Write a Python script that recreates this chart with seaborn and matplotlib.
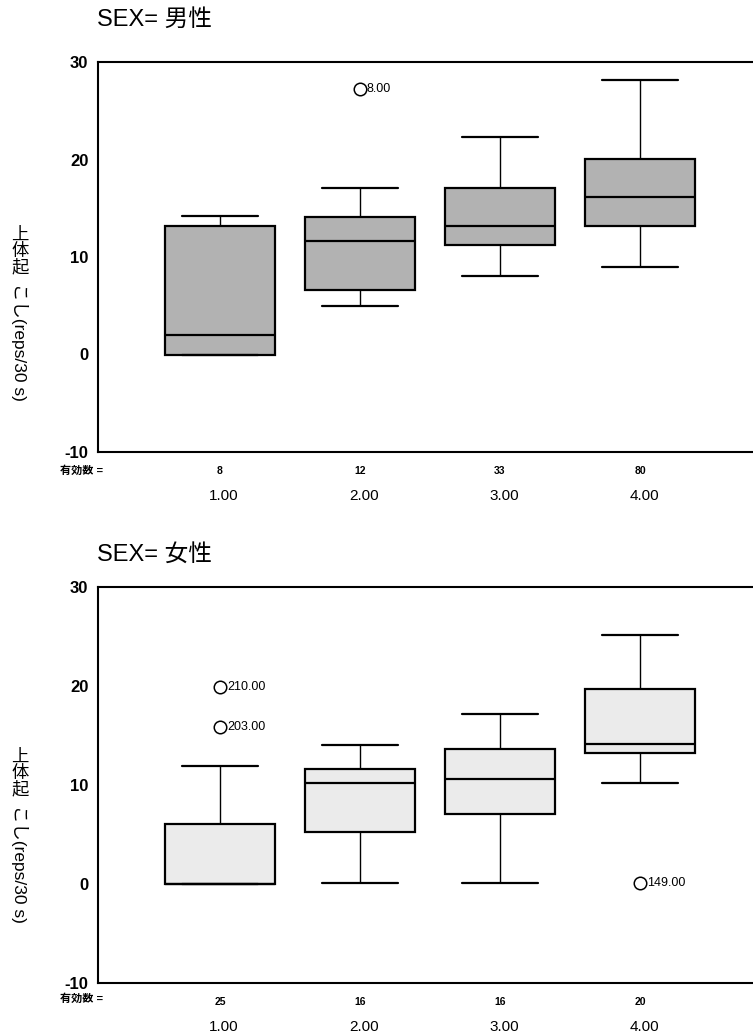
"""SPSS style boxplots of sit-ups (上体起こし) by group, split by SEX."""

import matplotlib
matplotlib.use("Agg")
import matplotlib.pyplot as plt
import pandas as pd
import seaborn as sns

# ---------------------------------------------------------------------------
# Data (five-number summaries per group)
# ---------------------------------------------------------------------------
groups = ["1.00", "2.00", "3.00", "4.00"]

male_lo = [0.0, 5.0, 8.1, 9.0]
male_q1 = [0.0, 6.6, 11.2, 13.2]
male_med = [2.0, 11.6, 13.2, 16.2]
male_q3 = [13.2, 14.1, 17.1, 20.1]
male_hi = [14.2, 17.1, 22.3, 28.2]
male_n = [8, 12, 33, 80]
male_out_group = ["2.00"]
male_out_val = [27.2]
male_out_label = ["8.00"]

female_lo = [0.0, 0.1, 0.1, 10.2]
female_q1 = [0.0, 5.3, 7.1, 13.2]
female_med = [0.0, 10.2, 10.6, 14.1]
female_q3 = [6.1, 11.6, 13.6, 19.7]
female_hi = [11.9, 14.0, 17.2, 25.2]
female_n = [25, 16, 16, 20]
female_out_group = ["1.00", "1.00", "4.00"]
female_out_val = [19.9, 15.9, 0.1]
female_out_label = ["210.00", "203.00", "149.00"]

W, H = 753, 1033

sns.set_style("white")
plt.rcParams["font.family"] = ["Liberation Sans", "Noto Sans CJK JP", "DejaVu Sans"]
plt.rcParams.update({"text.color": "black", "axes.labelcolor": "black",
                     "xtick.color": "black", "ytick.color": "black",
                     "axes.unicode_minus": False})


def five_number_frame(lo, q1, med, q3, hi):
    rows = []
    for g, a, b, c, d, e in zip(groups, lo, q1, med, q3, hi):
        for v in (a, b, c, d, e):
            rows.append({"group": g, "value": v})
    return pd.DataFrame(rows)


def draw_panel(ax, df, counts, out_group, out_val, out_label, face):
    sns.boxplot(data=df, x="group", y="value", order=groups, ax=ax,
                whis=(0, 100), width=0.78, color=face, saturation=1,
                linecolor="black", fliersize=0, capwidths=0.54,
                boxprops={"linewidth": 1.6},
                whiskerprops={"linewidth": 1.0},
                capprops={"linewidth": 1.6},
                medianprops={"linewidth": 1.6, "color": "black"})

    outl = pd.DataFrame({"group": out_group, "value": out_val})
    sns.stripplot(data=outl, x="group", y="value", order=groups, ax=ax,
                  jitter=False, size=9, color="white", edgecolor="black",
                  linewidth=1.1, zorder=5)
    for g, v, lab in zip(out_group, out_val, out_label):
        ax.annotate(lab, (groups.index(g), v), xytext=(5, 0),
                    textcoords="offset points", va="center", ha="left",
                    fontsize=9)

    ax.set_xlim(-0.871, 3.807)
    ax.set_ylim(-10, 30)
    ax.set_yticks([-10, 0, 10, 20, 30])
    ax.set_xlabel("")
    ax.set_ylabel("")
    ax.set_xticks(range(len(groups)))
    ax.set_xticklabels([str(n) for n in counts], fontsize=7.5, fontweight="bold")
    ax.tick_params(axis="x", direction="in", length=3, pad=10, width=1)
    ax.tick_params(axis="y", direction="out", length=3, pad=4, width=1,
                   labelsize=12)
    for lab in ax.get_yticklabels():
        lab.set_fontweight("bold")

    for i, g in enumerate(groups):
        ax.annotate(g, xy=(i, 0), xycoords=("data", "axes fraction"),
                    xytext=(3, -32), textcoords="offset points",
                    ha="center", va="center", fontsize=11)

    ax.spines["right"].set_visible(False)
    for side in ("left", "top", "bottom"):
        ax.spines[side].set_linewidth(1.5)
        ax.spines[side].set_color("black")


fig = plt.figure(figsize=(W / 100, H / 100), dpi=100)

ax_m = fig.add_axes([98 / W, 1 - 452 / H, 1 - 98 / W, 390 / H])
ax_f = fig.add_axes([98 / W, 1 - 983 / H, 1 - 98 / W, 396 / H])

draw_panel(ax_m,
           five_number_frame(male_lo, male_q1, male_med, male_q3, male_hi),
           male_n, male_out_group, male_out_val, male_out_label, "#b2b2b2")
draw_panel(ax_f,
           five_number_frame(female_lo, female_q1, female_med, female_q3, female_hi),
           female_n, female_out_group, female_out_val, female_out_label, "#ebebeb")

# titles, "valid N" row label and the y label
for title, ty, ny, ly in [("SEX= 男性", 20, 471, 228), ("SEX= 女性", 555, 999, 750)]:
    fig.text(97 / W, 1 - ty / H, title, fontsize=17, ha="left", va="center")
    fig.text(60 / W, 1 - ny / H, "有効数 =", fontsize=8, fontweight="bold",
             ha="left", va="center")
    fig.text(20 / W, 1 - ly / H, "上\n体\n起", fontsize=12.5, ha="center",
             va="top", linespacing=1.0)
    fig.text(20 / W, 1 - (ly + 55) / H, "こし(reps/30 s)", fontsize=12.5,
             rotation=270, ha="center", va="top")

fig.savefig("out.png", dpi=100)
